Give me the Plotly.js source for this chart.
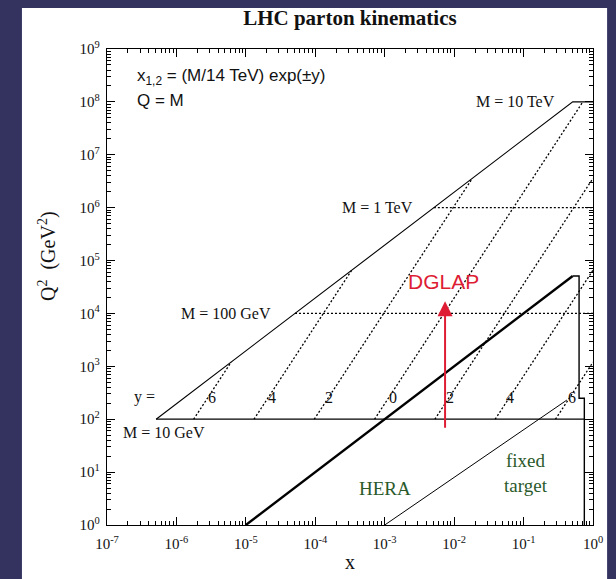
<!DOCTYPE html>
<html><head><meta charset="utf-8">
<script src="https://cdn.plot.ly/plotly-3.0.1.min.js"></script>
<style>html,body{margin:0;padding:0;background:#34335f;} #chart{width:616px;height:579px;}</style>
</head><body><div id="chart"></div>
<script>
// ---- data (x, Q^2 in GeV^2) ----
// LHC kinematic boundary, then M = 10 TeV
const boundaryX = [5.1e-7, 0.51, 1];
const boundaryQ2 = [1e2, 1e8, 1e8];
// M = 10 GeV (solid)
const m10X = [5.1e-7, 0.75];
const m10Q2 = [1e2, 1e2];
// M = 100 GeV and M = 1 TeV (dotted)
const m100X = [5.1e-5, 1];
const m100Q2 = [1e4, 1e4];
const m1000X = [5.1e-3, 1];
const m1000Q2 = [1e6, 1e6];
// constant-rapidity lines (dotted), labels y = 6 4 2 0 2 4 6
const rapidityLabels = ['6', '4', '2', '0', '2', '4', '6'];
const rapidityX = [
  [1.77e-6, 6.14e-6],
  [1.31e-5, 3.35e-4],
  [9.67e-5, 1.83e-2],
  [7.14e-4, 0.714],
  [5.28e-3, 1],
  [3.90e-2, 1],
  [0.288, 1]
];
const rapidityQ2 = [
  [1e2, 1.2e3],
  [1e2, 6.57e4],
  [1e2, 3.59e6],
  [1e2, 1e8],
  [1e2, 3.59e6],
  [1e2, 6.57e4],
  [1e2, 1.2e3]
];
const rapidityLabelX = [3.2e-6, 2.4e-5, 1.6e-4, 1.3e-3, 8.7e-3, 6.4e-2, 0.5];
// HERA kinematic limit and box
const heraX = [1e-5, 0.51, 0.63, 0.63, 0.75, 0.75];
const heraQ2 = [1, 5.1e4, 5.1e4, 250, 250, 1];
// fixed target limit
const fixedX = [1e-3, 0.42];
const fixedQ2 = [1, 230];
// DGLAP arrow
const dglapX = 7.4e-3;
const dglapQ2 = [69, 1.7e4];
// axis ticks
const xTickVals = [1e-7, 1e-6, 1e-5, 1e-4, 1e-3, 1e-2, 1e-1, 1];
const xTickText = ['10<sup>-7</sup>', '10<sup>-6</sup>', '10<sup>-5</sup>', '10<sup>-4</sup>', '10<sup>-3</sup>', '10<sup>-2</sup>', '10<sup>-1</sup>', '10<sup>0</sup>'];
const yTickVals = [1, 10, 1e2, 1e3, 1e4, 1e5, 1e6, 1e7, 1e8, 1e9];
const yTickText = ['10<sup>0</sup>', '10<sup>1</sup>', '10<sup>2</sup>', '10<sup>3</sup>', '10<sup>4</sup>', '10<sup>5</sup>', '10<sup>6</sup>', '10<sup>7</sup>', '10<sup>8</sup>', '10<sup>9</sup>'];

// minor tick positions (2..9 within each decade)
function minorTicks(e0, e1) {
  const v = [];
  for (let e = e0; e < e1; e++) for (let d = 2; d <= 9; d++) v.push(d * Math.pow(10, e));
  return v;
}

const SERIF = '"Liberation Serif", "DejaVu Serif", serif';
const SANS = '"Liberation Sans", Arial, sans-serif';
const DOT = '2px,2px';

const traces = [];
function line(x, y, width, dash, color) {
  traces.push({x: x, y: y, type: 'scatter', mode: 'lines', hoverinfo: 'skip',
    line: {color: color || '#000', width: width, dash: dash || 'solid'}, showlegend: false});
}
line(boundaryX, boundaryQ2, 1.1);
line(m10X, m10Q2, 1.3);
line(m100X, m100Q2, 1.3, DOT);
line(m1000X, m1000Q2, 1.3, DOT);
rapidityX.forEach((xs, i) => line(xs, rapidityQ2[i], 1.3, DOT));
line(heraX.slice(0, 2), heraQ2.slice(0, 2), 2.4);
line(heraX.slice(1), heraQ2.slice(1), 1.4);
line(fixedX, fixedQ2, 1);
line([dglapX, dglapX], [dglapQ2[0], dglapQ2[1] / 1.6], 2, null, '#de1d34');

const L = Math.log10;
const ann = [];
function txt(text, x, y, opts) {
  ann.push(Object.assign({text: text, x: L(x), y: L(y), xref: 'x', yref: 'y', showarrow: false,
    font: {family: SERIF, size: 16, color: '#111'}}, opts || {}));
}
const NB = '&nbsp;';
txt('x<sub>1,2</sub> = (M/14 TeV) exp(±y)', 2.5e-7, 3.0e8, {xanchor: 'left', font: {family: SANS, size: 17, color: '#111'}});
txt('Q = M', 2.5e-7, 1.05e8, {xanchor: 'left', font: {family: SANS, size: 17, color: '#111'}});
txt('M' + NB + '=' + NB + '10 TeV', 0.3, 1e8, {xanchor: 'right'});
txt('M' + NB + '=' + NB + '1 TeV', 2.7e-3, 1e6, {xanchor: 'right'});
txt('M' + NB + '=' + NB + '100 GeV', 2.5e-5, 1e4, {xanchor: 'right'});
txt('M' + NB + '=' + NB + '10 GeV', 1.6e-7, 57, {xanchor: 'left'});
txt('y =', 3.5e-7, 263, {});
rapidityLabels.forEach((t, i) => txt(t, rapidityLabelX[i], 263, {}));
txt('HERA', 1.0e-3, 5.0, {font: {family: SERIF, size: 19, color: '#2b5a2b'}});
txt('fixed<br>target', 0.11, 9.7, {font: {family: SERIF, size: 19, color: '#2b5a2b'}});
txt('DGLAP', 7.0e-3, 4.1e4, {font: {family: SANS, size: 21, color: '#de1d34'}});
ann.push({x: L(dglapX), y: L(dglapQ2[1]), ax: L(dglapX), ay: L(dglapQ2[1] / 2), axref: 'x', ayref: 'y',
  xref: 'x', yref: 'y', text: '', showarrow: true, arrowhead: 2, arrowsize: 1.5, arrowwidth: 2, arrowcolor: '#de1d34'});
// y-axis title (placed as in the reference, above the axis middle)
ann.push({text: 'Q<sup>2</sup>  (GeV<sup>2</sup>)', xref: 'paper', yref: 'paper', x: (47 - 107) / 486, y: (525 - 256) / 476,
  textangle: -90, showarrow: false, xanchor: 'center', yanchor: 'middle', font: {family: SERIF, size: 20, color: '#111'}});

const axisCommon = {
  type: 'log', showgrid: false, zeroline: false, showline: true, linecolor: '#000', linewidth: 1.3,
  mirror: 'allticks', ticks: 'inside', ticklen: 8, tickwidth: 1.2, tickcolor: '#000',
  tickmode: 'array', tickfont: {family: SERIF, size: 15, color: '#111'}
};

const layout = {
  width: 616, height: 579, autosize: false,
  paper_bgcolor: '#34335f', plot_bgcolor: 'rgba(0,0,0,0)',
  margin: {l: 107, r: 23, t: 49, b: 54},
  title: {text: '<b>LHC parton kinematics</b>', x: 0.568, xanchor: 'center', y: 0.969, yanchor: 'middle', yref: 'container',
    font: {family: SERIF, size: 21, color: '#111'}},
  xaxis: Object.assign({}, axisCommon, {range: [-7, 0], tickvals: xTickVals, ticktext: xTickText, ticklabelstandoff: 5,
    minor: {tickmode: 'array', tickvals: minorTicks(-7, 0), ticks: 'inside', ticklen: 4, tickwidth: 1, tickcolor: '#000', showgrid: false},
    title: {text: 'x', font: {family: SERIF, size: 20, color: '#111'}, standoff: 3}}),
  yaxis: Object.assign({}, axisCommon, {range: [0, 9], tickvals: yTickVals, ticktext: yTickText, ticklabelstandoff: 3,
    minor: {tickmode: 'array', tickvals: minorTicks(0, 9), ticks: 'inside', ticklen: 4, tickwidth: 1, tickcolor: '#000', showgrid: false}}),
  shapes: [{type: 'rect', xref: 'paper', yref: 'paper', x0: -0.175, x1: 1.029, y0: -0.2, y1: 1.086,
    fillcolor: '#ffffff', line: {width: 0}, layer: 'below'}],
  annotations: ann
};

Plotly.newPlot('chart', traces, layout, {staticPlot: true, displayModeBar: false});
</script></body></html>
